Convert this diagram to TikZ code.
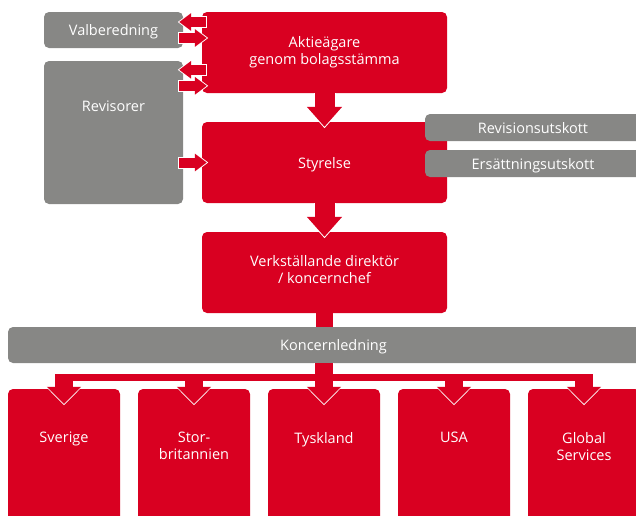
\documentclass[tikz,border=0pt]{standalone}
\usepackage{fontspec}
\setmainfont{Open Sans}
\usetikzlibrary{arrows.meta,calc}

\definecolor{kred}{RGB}{217,0,33}
\definecolor{kgray}{RGB}{135,135,133}

\begin{document}
\begin{tikzpicture}[x=1pt,y=-1pt,
   txt/.style={text=white,align=center,font=\fontsize{14.5}{17}\selectfont},
   box/.style={txt,rounded corners=5pt,inner sep=0pt},
   redbox/.style={box,fill=kred},
   graybox/.style={box,fill=kgray,text height=11pt,text depth=0pt},
   mainbox/.style={redbox,minimum width=245pt,minimum height=81pt},
   country/.style={redbox,minimum width=112pt,minimum height=136pt},
   bigarrow/.style={kred,line width=20pt,-{Triangle[width=34pt,length=20pt]},
      preaction={draw=white,line width=22pt,-{Triangle[width=37pt,length=22pt]},shorten >=-1.5pt}},
   downarrow/.style={kred,line width=18pt,-{Triangle[width=33pt,length=17pt]},
      preaction={draw=white,line width=20pt,-{Triangle[width=36pt,length=19pt]},shorten >=-1.5pt}},
   sidearrow/.style={kred,line width=10pt,-{Triangle[width=17pt,length=12pt]},
      preaction={draw=white,line width=12pt,-{Triangle[width=20pt,length=14pt]},shorten >=-1.5pt,shorten <=-1pt}},
   stem/.style={kred,line width=17pt},
   busline/.style={kred,line width=7pt}]

   \useasboundingbox (0,0) rectangle (636,515);
   \clip (0,0) rectangle (636,515);

   % left column
   \node[graybox,minimum width=139pt,minimum height=36pt] (val) at (113.5,30) {Valberedning};
   \node[graybox,minimum width=139pt,minimum height=143pt,
         label={[txt,anchor=north,yshift=-37pt]north:Revisorer}] (rev) at (113.5,132.5) {};

   % main column
   \node[mainbox] (akt) at (324.5,52.5)  {Aktieägare\\genom bolagsstämma};
   \node[mainbox,text height=11pt,text depth=0pt] (sty) at (324.5,162.5) {Styrelse};
   \node[mainbox,label={[txt,yshift=3pt]center:Verkställande direktör\\/ koncernchef}] (vd) at (324.5,272.5) {};

   % committees
   \node[graybox,minimum width=216pt,minimum height=27pt] (revu) at (533,127.5) {Revisionsutskott};
   \node[graybox,minimum width=216pt,minimum height=27pt] (ersu) at (533,163.5) {Ersättningsutskott};

   \node[graybox,minimum width=651pt,minimum height=36pt] (kon) at (333.5,345) {Koncernledning};

   % countries
   \node[country,label={[txt,anchor=north,yshift=-40pt]north:Sverige}] (sve) at (64,457) {};
   \node[country,label={[txt,anchor=north,yshift=-40pt]north:Stor-\\britannien}] (sto) at (194,457) {};
   \node[country,label={[txt,anchor=north,yshift=-40pt]north:Tyskland}] (tys) at (324,457) {};
   \node[country,label={[txt,anchor=north,yshift=-40pt]north:USA}] (usa) at (454,457) {};
   \node[country,label={[txt,anchor=north,yshift=-40pt]north:Global\\Services}] (glo) at (584,457) {};

   % side arrows
   \draw[sidearrow] ($(akt.west |- val.east)+(4,-8)$) -- ($(val.east)+(-4,-8)$);
   \draw[sidearrow] ($(val.east)+(-4,8)$) -- ($(akt.west |- val.east)+(5,8)$);
   \draw[sidearrow] ($(akt.west |- rev.north)+(4,9)$) -- ($(rev.north east)+(-4,9)$);
   \draw[sidearrow] ($(rev.north east)+(-4,25)$) -- ($(akt.west |- rev.north)+(5,25)$);
   \draw[sidearrow] ($(rev.east |- sty.west)+(-4,0)$) -- ($(sty.west)+(5,0)$);

   % main flow
   \draw[bigarrow] (akt.south) -- ([yshift=-5pt]sty.north);
   \draw[bigarrow] (sty.south) -- ([yshift=-5pt]vd.north);
   \draw[stem] (vd.south) -- (vd.south |- kon.north);

   \coordinate (bus) at (324,377.5);
   \draw[downarrow] (tys.north |- kon.south) -- ([yshift=-15pt]tys.north);
   \foreach \c in {sve,sto,usa,glo}
      \draw[downarrow] (\c.north |- bus) -- ([yshift=-15pt]\c.north);
   \draw[busline] ($(sve.north |- bus)+(-9,0)$) -- ($(glo.north |- bus)+(9,0)$);

\end{tikzpicture}
\end{document}
